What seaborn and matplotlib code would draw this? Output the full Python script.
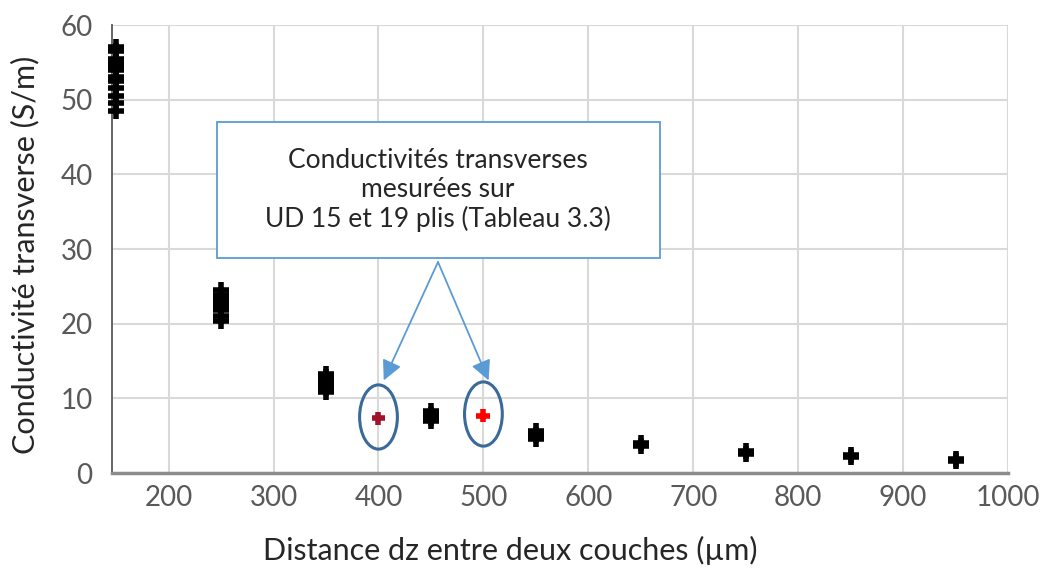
import matplotlib
matplotlib.use("Agg")
import matplotlib.pyplot as plt
from matplotlib.patches import Ellipse, Rectangle
import seaborn as sns
import pandas as pd

# Simulated transverse conductivity vs inter-layer distance
dist_sim = [150] * 12 + [250] * 8 + [350] * 6 + [450] * 4 + [550] * 3 + [650, 650] + [750, 750] + [850, 850] + [950, 950]
cond_sim = [48.5, 49.5, 50.5, 51.5, 52.5, 53.0, 54.0, 54.5, 55.0, 55.5, 56.5, 57.0,
            20.3, 21.0, 21.8, 22.3, 22.8, 23.3, 23.8, 24.5,
            10.8, 11.4, 11.9, 12.3, 12.8, 13.3,
            6.9, 7.4, 7.8, 8.3,
            4.6, 5.1, 5.6,
            3.6, 4.0,
            2.6, 3.0,
            2.1, 2.4,
            1.6, 1.9]

# Measured values (UD 15 and 19 plies)
dist_meas = [400, 500]
cond_meas = [7.3, 7.7]
meas_colors = ["#a0142a", "#ff0000"]

x_ticks = [200, 300, 400, 500, 600, 700, 800, 900, 1000]
y_ticks = [0, 10, 20, 30, 40, 50, 60]

sns.set_theme(style="whitegrid")
plt.rcParams["font.family"] = ["Lato", "DejaVu Sans"]

W, H = 1045, 573
fig = plt.figure(figsize=(W / 100, H / 100), dpi=100)
ax = fig.add_axes([112 / W, 1 - 473 / H, 896 / W, 448 / H])

df_sim = pd.DataFrame({"dz": dist_sim, "sigma": cond_sim})
sns.scatterplot(data=df_sim, x="dz", y="sigma", marker="+", s=140,
                color="black", linewidth=4, ax=ax, clip_on=False, zorder=4)

df_meas = pd.DataFrame({"dz": dist_meas, "sigma": cond_meas, "src": ["UD15", "UD19"]})
sns.scatterplot(data=df_meas, x="dz", y="sigma", hue="src", palette=meas_colors,
                marker="+", s=100, linewidth=4, ax=ax, legend=False, zorder=5)

ax.set_xlim(146, 1000)
ax.set_ylim(0, 60)
ax.set_xticks(x_ticks)
ax.set_yticks(y_ticks)
ax.tick_params(axis="both", labelsize=20, labelcolor="#595959", color="#595959",
               direction="in", length=4, width=1.2)
ax.tick_params(axis="x", pad=9)
ax.tick_params(axis="y", pad=14)
ax.grid(True, color="#d9d9d9", linewidth=1.5)
ax.set_axisbelow(True)
for side in ["top", "right"]:
    ax.spines[side].set_visible(False)
ax.spines["left"].set_color("#595959")
ax.spines["left"].set_linewidth(1.3)
ax.spines["bottom"].set_color("#8c8c8c")
ax.spines["bottom"].set_linewidth(2.5)

ax.set_xlabel("Distance dz entre deux couches (µm)", fontsize=22, color="#262626", va="center")
ax.set_ylabel("Conductivité transverse (S/m)", fontsize=22, color="#262626", va="center")
ax.xaxis.set_label_coords(0.444, -0.172)
ax.yaxis.set_label_coords(-0.097, 0.488)

# Ellipses around the measured points
for xd, yd in zip(dist_meas, cond_meas):
    ax.add_patch(Ellipse((xd, yd + 0.2), width=36, height=8.6, fill=False,
                         edgecolor="#3a6a99", linewidth=2.2, zorder=6))

# Annotation box
fig.add_artist(Rectangle((217 / W, 1 - 258 / H), 443 / W, 136 / H,
                         transform=fig.transFigure, fc="white", ec="#5b9bd5",
                         lw=1.3, zorder=7))
fig.text(438 / W, 1 - 190 / H,
         "Conductivités transverses\nmesurées sur\nUD 15 et 19 plis (Tableau 3.3)",
         ha="center", va="center", fontsize=19, color="#262626",
         linespacing=1.2, zorder=8)

# Arrows from the box to the measured points
for xd in [405, 505]:
    ax.annotate("", xy=(xd, 12.4), xycoords="data",
                xytext=(438, H - 262), textcoords="figure pixels",
                arrowprops=dict(arrowstyle="-|>,head_length=1.0,head_width=0.5",
                                color="#5b9bd5", lw=1.3, shrinkA=0, shrinkB=0),
                zorder=7)

fig.savefig("out.png", dpi=100, facecolor="white")
